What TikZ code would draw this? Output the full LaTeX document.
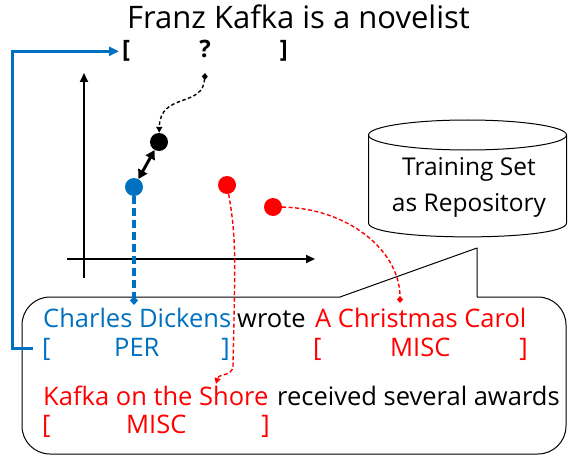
\documentclass[tikz,border=0pt]{standalone}
\usepackage{fontspec}
\setmainfont{Open Sans}
\usetikzlibrary{arrows.meta,calc}
\definecolor{entblue}{HTML}{0070C0}
\definecolor{entred}{HTML}{FF0000}
\begin{document}
\begin{tikzpicture}[x=1pt,y=-1pt,
  txt/.style={inner sep=0pt, font=\fontsize{25.5pt}{30pt}\selectfont},
  toptxt/.style={inner sep=0pt, font=\fontsize{24pt}{28pt}\selectfont\bfseries},
  dot/.style={circle, fill, inner sep=0pt, minimum size=18pt},
  axis/.style={line width=1.8pt, -{Triangle[length=9pt,width=8pt]}},
  link/.style={entblue, line width=3pt, -{Triangle[length=10pt,width=9pt]}},
  qdash/.style={line width=1.4pt, dash pattern=on 3.5pt off 2.5pt,
    {Diamond[length=7pt,width=6pt]}-{Triangle[length=6pt,width=6pt]}},
  bdash/.style={entblue, line width=3.2pt, dash pattern=on 8pt off 4pt,
    -{Diamond[length=9pt,width=8pt]}},
  rdash/.style={entred, line width=1.4pt, dash pattern=on 4pt off 2.5pt},
  near/.style={line width=3pt,
    {Triangle[length=9pt,width=10pt]}-{Triangle[length=9pt,width=10pt]}},
  outline/.style={line width=1pt}]
\useasboundingbox (0,0) rectangle (569,457);

% query sentence and its unknown label
\node[inner sep=0pt, anchor=base west, font=\fontsize{31pt}{36pt}\selectfont]
  (title) at (127,29) {Franz Kafka is a novelist};
\node[toptxt, anchor=base west] (qL) at (122,58) {[};
\node[toptxt, anchor=base] (qm) at (205,58) {?};
\node[toptxt, anchor=base east] (qR) at (288,58) {]};

% embedding space
\coordinate (ybot) at (84,278);
\coordinate (ytop) at (84,73);
\coordinate (xleft) at (67,259);
\coordinate (xright) at (315,259);
\draw[axis] (ybot) -- (ytop);
\draw[axis] (xleft) -- (xright);

\node[dot, black] (kdot) at (159,142) {};
\node[dot, entblue] (bdot) at (134,187) {};
\node[dot, entred] (r1) at (227,185) {};
\node[dot, entred] (r2) at (273,207) {};

\draw[near] (bdot) -- (kdot);

% repository cylinder
\draw[outline] (467.5,135) ellipse [x radius=99, y radius=15];
\draw[outline] (368.5,135) -- (368.5,223)
  .. controls (368.5,241.5) and (566.5,241.5) .. (566.5,223) -- (566.5,135);
\node[inner sep=0pt, align=center, font=\fontsize{24.5pt}{36pt}\selectfont]
  (repo) at (469,187) {Training Set\\as Repository};

% callout box with the stored sentences
\draw[outline, rounded corners=28pt] (477,297) -- (566,297) -- (566,454)
  -- (22,454) -- (22,297) -- (340,297);
\draw[outline, line join=round] (340,297) -- (477,248) -- (477,297);

\node[txt, anchor=base west, text=entblue] (charles) at (43,327) {Charles Dickens};
\node[txt, anchor=base west] (wrote) at (237,327) {wrote};
\node[txt, anchor=base west, text=entred] (carol) at (315,327) {A Christmas Carol};

\node[txt, anchor=base west, text=entblue] (perL) at (42,356) {[};
\node[txt, anchor=base west, text=entblue] (per) at (114,356) {PER};
\node[txt, anchor=base east, text=entblue] (perR) at (230,356) {]};
\node[txt, anchor=base west, text=entred] (miscAL) at (313,356) {[};
\node[txt, anchor=base west, text=entred] (miscA) at (390,356) {MISC};
\node[txt, anchor=base east, text=entred] (miscAR) at (528,356) {]};

\node[txt, anchor=base west, text=entred] (kafka) at (43,405) {Kafka on the Shore};
\node[txt, anchor=base west] (received) at (277,405) {received several awards};

\node[txt, anchor=base west, text=entred] (miscBL) at (42,433) {[};
\node[txt, anchor=base west, text=entred] (miscB) at (126,433) {MISC};
\node[txt, anchor=base east, text=entred] (miscBR) at (270,433) {]};

% connectors
\coordinate (qtail) at (205,73);
\coordinate (dickmark) at (134,305);
\coordinate (carolmark) at (400,303);
\coordinate (kafkamark) at (216,384);
\coordinate (rail) at (12,200);

\draw[qdash] (qtail) .. controls (203,108) and (160,92) .. (kdot);
\draw[bdash] (bdot) -- (dickmark);
\draw[rdash, -{Diamond[length=7pt,width=6pt]}] (r2)
  .. controls (347,208) and (400,250) .. (carolmark);
\draw[rdash, -{Triangle[length=6pt,width=6pt]}] (r1)
  .. controls (236,235) and (235,260) .. (234,320)
  -- (233,366) .. controls (232,377) and (219,373) .. (kafkamark);
\draw[link, shorten <=9pt, shorten >=3pt] (perL.west) -| (rail) |- (qL.west);
\end{tikzpicture}
\end{document}
